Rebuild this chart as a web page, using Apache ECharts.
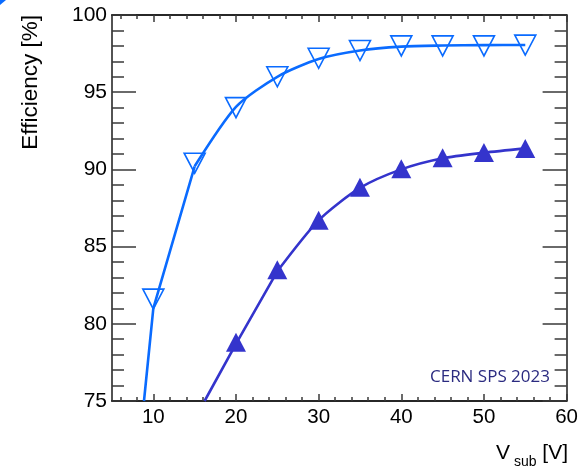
<!DOCTYPE html>
<html>
<head>
<meta charset="utf-8">
<script src="https://cdn.jsdelivr.net/npm/echarts@6/dist/echarts.min.js"></script>
<style>
  html, body { margin: 0; padding: 0; background: #fff; }
  #chart { width: 581px; height: 468px; }
</style>
</head>
<body>
<div id="chart"></div>
<script>
// Substrate voltage scan: efficiency measurements and fitted curves
const voltsOpen = [10, 15, 20, 25, 30, 35, 40, 45, 50, 55];
const effOpen = [81.6, 90.4, 94.0, 96.0, 97.2, 97.7, 98.0, 98.0, 98.0, 98.05];

const voltsFilled = [20, 25, 30, 35, 40, 45, 50, 55];
const effFilled = [78.8, 83.5, 86.7, 88.85, 90.05, 90.75, 91.1, 91.35];

// Fitted curves: steep straight part, then the rounded part
const curveOpenLowV = [8.87, 10, 15];
const curveOpenLowEff = [75, 81.0, 90.2];
const curveOpenHighV = [15, 20, 25, 30, 35, 40, 45, 50, 55];
const curveOpenHighEff = [90.2, 94.05, 96.0, 97.15, 97.7, 97.95, 98.02, 98.05, 98.06];

const curveFilledLowV = [16.2, 20, 25];
const curveFilledLowEff = [75, 78.7, 83.4];
const curveFilledHighV = [25, 30, 35, 40, 45, 50, 55];
const curveFilledHighEff = [83.4, 86.7, 88.8, 90.0, 90.72, 91.08, 91.36];

// Axis ticks
const xMajorTicks = [10, 20, 30, 40, 50, 60];
const xMinorTicks = [6, 8, 12, 14, 16, 18, 22, 24, 26, 28, 32, 34, 36, 38, 42, 44, 46, 48, 52, 54, 56, 58];

const colOpen = '#0a6bff';
const colFilled = '#3434cc';
const tickCol = '#3a3a3a';
const axisCol = '#1a1a1a';

const zip = (a, b) => a.map((v, i) => [v, b[i]]);

const chart = echarts.init(document.getElementById('chart'), null, { renderer: 'canvas' });

const xBase = {
  type: 'value', min: 5, max: 60, gridIndex: 0,
  splitLine: { show: false },
  axisLine: { show: true, onZero: false, lineStyle: { color: axisCol, width: 1.5 } }
};
const yBase = {
  type: 'value', min: 75, max: 100, interval: 5, gridIndex: 0,
  splitLine: { show: false },
  axisLine: { show: true, onZero: false, lineStyle: { color: axisCol, width: 1.5 } },
  axisTick: { show: true, inside: true, length: 24, lineStyle: { color: tickCol, width: 1.5 } },
  minorTick: { show: true, splitNumber: 5, length: 12, lineStyle: { color: tickCol, width: 1.5 } }
};

function curve(v, e, color, smooth) {
  return {
    type: 'line', xAxisIndex: 0, yAxisIndex: 0,
    data: zip(v, e), smooth: smooth, showSymbol: false, clip: true,
    lineStyle: { color: color, width: 2.6 }, z: 2
  };
}

chart.setOption({
  animation: false,
  backgroundColor: '#fff',
  grid: { left: 112, top: 15, width: 456, height: 386 },
  xAxis: [
    Object.assign({}, xBase, {
      position: 'bottom',
      axisTick: { show: true, inside: true, length: 7, customValues: xMajorTicks, lineStyle: { color: tickCol, width: 1.5 } },
      axisLabel: { show: true, customValues: xMajorTicks, margin: 6, fontSize: 20.5, color: '#000', fontFamily: 'Liberation Sans' }
    }),
    Object.assign({}, xBase, {
      position: 'bottom',
      axisTick: { show: true, inside: true, length: 4, customValues: xMinorTicks, lineStyle: { color: tickCol, width: 1.5 } },
      axisLabel: { show: false }
    }),
    Object.assign({}, xBase, {
      position: 'top',
      axisTick: { show: true, inside: true, length: 7, customValues: xMajorTicks, lineStyle: { color: tickCol, width: 1.5 } },
      axisLabel: { show: false }
    }),
    Object.assign({}, xBase, {
      position: 'top',
      axisTick: { show: true, inside: true, length: 4, customValues: xMinorTicks, lineStyle: { color: tickCol, width: 1.5 } },
      axisLabel: { show: false }
    })
  ],
  yAxis: [
    Object.assign({}, yBase, {
      position: 'left',
      axisLabel: { show: true, margin: 5, fontSize: 21, color: '#000', fontFamily: 'Liberation Sans' }
    }),
    Object.assign({}, yBase, {
      position: 'right',
      axisLabel: { show: false }
    })
  ],
  series: [
    curve(curveOpenLowV, curveOpenLowEff, colOpen, false),
    curve(curveOpenHighV, curveOpenHighEff, colOpen, 0.25),
    curve(curveFilledLowV, curveFilledLowEff, colFilled, false),
    curve(curveFilledHighV, curveFilledHighEff, colFilled, 0.25),
    {
      name: 'open', type: 'scatter', xAxisIndex: 0, yAxisIndex: 0,
      data: zip(voltsOpen, effOpen),
      symbol: 'triangle', symbolRotate: 180, symbolSize: [21, 20],
      itemStyle: { color: 'rgba(0,0,0,0)', borderColor: colOpen, borderWidth: 1.6, opacity: 1 }, z: 3
    },
    {
      name: 'filled', type: 'scatter', xAxisIndex: 0, yAxisIndex: 0,
      data: zip(voltsFilled, effFilled),
      symbol: 'triangle', symbolSize: [20, 19],
      itemStyle: { color: colFilled, opacity: 1 }, z: 3
    }
  ],
  graphic: [
    {
      type: 'text', x: 31, y: 15, rotation: Math.PI / 2,
      style: { text: 'Efficiency [%]', fontSize: 22.5, fontFamily: 'Liberation Sans', fill: '#000', align: 'right', verticalAlign: 'middle' }
    },
    {
      type: 'text', x: 496, y: 453,
      style: { text: 'V', fontSize: 21, fontFamily: 'Liberation Sans', fill: '#000', align: 'left', verticalAlign: 'middle' }
    },
    {
      type: 'text', x: 514, y: 462,
      style: { text: 'sub', fontSize: 14, fontFamily: 'Liberation Sans', fill: '#000', align: 'left', verticalAlign: 'middle' }
    },
    {
      type: 'text', x: 568, y: 453,
      style: { text: '[V]', fontSize: 21, fontFamily: 'Liberation Sans', fill: '#000', align: 'right', verticalAlign: 'middle' }
    },
    {
      type: 'text', x: 550, y: 377,
      style: { text: 'CERN SPS 2023', fontSize: 17, fontFamily: 'Open Sans', fill: '#2b2b80', align: 'right', verticalAlign: 'middle' }
    },
    {
      type: 'polygon',
      shape: { points: [[0, 0], [6, 0], [0, 5]] },
      style: { fill: colOpen }
    }
  ]
});
</script>
</body>
</html>
